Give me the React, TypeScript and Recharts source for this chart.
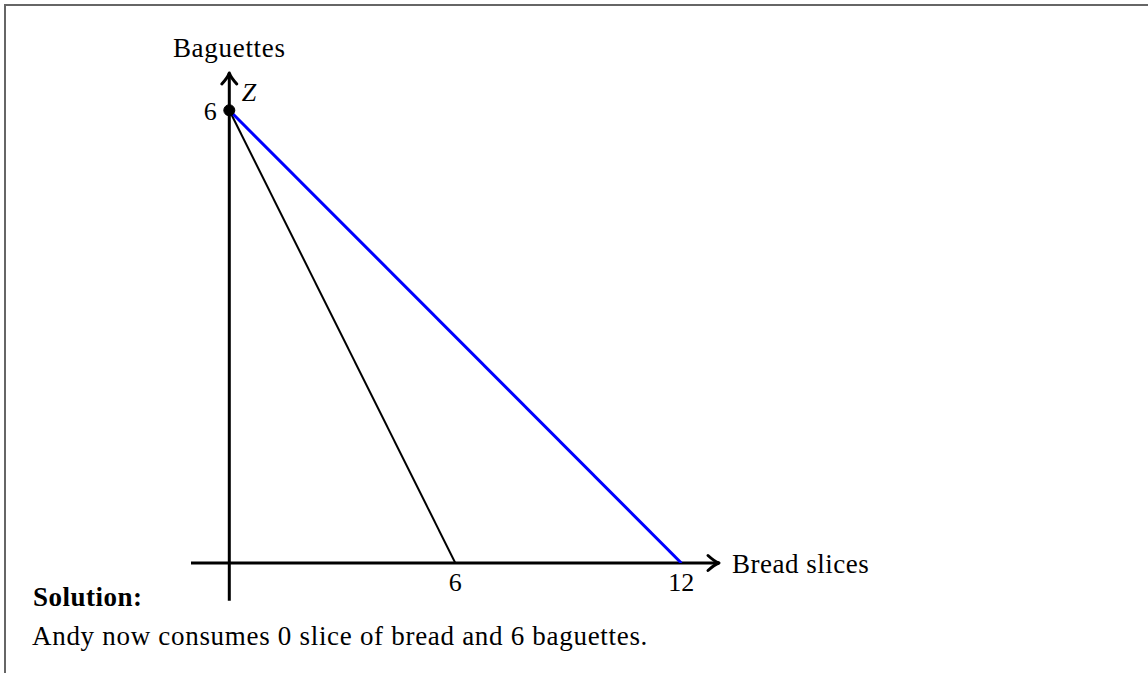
import React from 'react';
import { ComposedChart, Line, XAxis, YAxis, ReferenceLine, ReferenceDot, Label } from 'recharts';

// budget lines: bread slices on x, baguettes on y
const oldBudget = [
  { slices: 0, baguettes: 6 },
  { slices: 6, baguettes: 0 },
];
const newBudget = [
  { slices: 0, baguettes: 6 },
  { slices: 12, baguettes: 0 },
];
const xTicks = [6, 12];
const chosenBundle = { slices: 0, baguettes: 6, name: 'Z' };
const xLabel = 'Bread slices';
const yLabel = 'Baguettes';
const solutionTitle = 'Solution:';
const solutionText = 'Andy now consumes 0 slice of bread and 6 baguettes.';

const FONT = '"Liberation Serif", "Times New Roman", serif';

const ArrowAxis = (props: any) => {
  const { x1, y1, x2, y2 } = props;
  const ang = (Math.atan2(y2 - y1, x2 - x1) * 180) / Math.PI;
  return (
    <g>
      <line x1={x1} y1={y1} x2={x2} y2={y2} stroke="#000" strokeWidth={3} />
      <path
        d="M -11 -7.5 Q -4.5 -1.5 0 0 Q -4.5 1.5 -11 7.5"
        transform={`translate(${x2},${y2}) rotate(${ang})`}
        fill="none"
        stroke="#000"
        strokeWidth={3}
        strokeLinecap="round"
        strokeLinejoin="round"
      />
    </g>
  );
};

const App: React.FC = () => {
  return (
    <div style={{ position: 'absolute', left: 0, top: 0, width: 1148, height: 673, background: '#fff', fontFamily: FONT }}>
      {/* frame */}
      <div
        style={{
          position: 'absolute',
          left: 4,
          top: 4,
          width: 1150,
          height: 680,
          borderLeft: '2px solid #666',
          borderTop: '2px solid #666',
        }}
      />

      <ComposedChart width={1148} height={673} margin={{ top: 73, right: 429, bottom: 80, left: 191 }}>
        <XAxis
          type="number"
          dataKey="slices"
          domain={[-1.0167, 13]}
          allowDataOverflow
          ticks={xTicks}
          interval={0}
          height={30}
          axisLine={false}
          tickLine={false}
          tickSize={4}
          tickMargin={6}
          tick={{ fill: '#000', fontSize: 26, fontFamily: FONT }}
        />
        <YAxis type="number" dataKey="baguettes" domain={[0, 6.494]} allowDataOverflow hide width={0} />

        <ReferenceLine
          segment={[{ x: -1.0167, y: 0 }, { x: 13, y: 0 }]}
          ifOverflow="visible"
          shape={ArrowAxis}
        >
          <Label value={xLabel} position="right" offset={13} fill="#000" fontSize={27} fontFamily={FONT} letterSpacing={0.5} />
        </ReferenceLine>
        <ReferenceLine
          segment={[{ x: 0, y: -0.5 }, { x: 0, y: 6.494 }]}
          ifOverflow="visible"
          shape={ArrowAxis}
        >
          <Label value={yLabel} position="top" offset={16} fill="#000" fontSize={27} fontFamily={FONT} letterSpacing={0.7} />
        </ReferenceLine>

        <Line
          data={oldBudget}
          dataKey="baguettes"
          type="linear"
          stroke="#000"
          strokeWidth={2}
          dot={false}
          activeDot={false}
          isAnimationActive={false}
        />
        <Line
          data={newBudget}
          dataKey="baguettes"
          type="linear"
          stroke="#0000ff"
          strokeWidth={3}
          dot={false}
          activeDot={false}
          isAnimationActive={false}
        />

        <ReferenceDot x={chosenBundle.slices} y={chosenBundle.baguettes} r={5.5} fill="#000" stroke="#000" ifOverflow="visible">
          <Label value={String(chosenBundle.baguettes)} position="left" offset={7} fill="#000" fontSize={26} fontFamily={FONT} />
          <Label
            content={(p: any) => {
              const vb = p.viewBox || {};
              return (
                <text x={vb.x + vb.width + 7} y={vb.y - 4} fill="#000" fontSize={26} fontStyle="italic" fontFamily={FONT}>
                  {chosenBundle.name}
                </text>
              );
            }}
          />
        </ReferenceDot>
      </ComposedChart>

      <svg width={1148} height={673} style={{ position: 'absolute', left: 0, top: 0, pointerEvents: 'none' }}>
        <text x={33} y={606} fontFamily={FONT} fontWeight="bold" fontSize={27} letterSpacing={0.5} fill="#000">
          {solutionTitle}
        </text>
        <text x={32} y={645} fontFamily={FONT} fontSize={27} letterSpacing={0.7} fill="#000">
          {solutionText}
        </text>
      </svg>
    </div>
  );
};

export default App;
